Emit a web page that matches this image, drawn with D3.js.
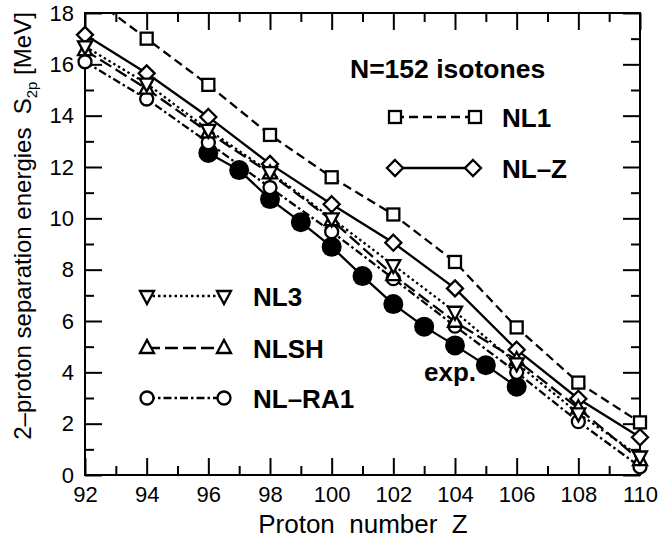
<!DOCTYPE html>
<html>
<head>
<meta charset="utf-8">
<script src="https://cdn.jsdelivr.net/npm/d3@7"></script>
<style>
  html, body { margin: 0; padding: 0; background: #fff; }
  svg { display: block; }
  text { font-family: "Liberation Sans", Arial, Helvetica, sans-serif; fill: #000; }
</style>
</head>
<body>
<svg id="chart" width="659" height="539"></svg>
<script>
// ---------------- data ----------------
const zTheory = [92, 94, 96, 98, 100, 102, 104, 106, 108, 110];
const nl1   = [18.8, 17.0, 15.2, 13.25, 11.6, 10.15, 8.3, 5.75, 3.6, 2.05];
const nlz   = [17.15, 15.65, 13.95, 12.12, 10.55, 9.05, 7.27, 4.88, 2.97, 1.47];
const nl3   = [16.7, 15.25, 13.45, 11.8, 10.0, 8.18, 6.36, 4.35, 2.4, 0.72];
const nlsh  = [16.55, 15.05, 13.35, 11.75, 9.93, 7.79, 5.97, 4.48, 2.6, 0.58];
const nlra1 = [16.1, 14.65, 12.95, 11.2, 9.48, 7.65, 5.8, 4.0, 2.08, 0.32];
const zExp  = [96, 97, 98, 99, 100, 101, 102, 103, 104, 105, 106];
const sExp  = [12.55, 11.88, 10.75, 9.85, 8.89, 7.75, 6.66, 5.78, 5.05, 4.28, 3.44];
const xMajorTicks = [92, 94, 96, 98, 100, 102, 104, 106, 108, 110];
const xMinorTicks = [93, 95, 97, 99, 101, 103, 105, 107, 109];
const yMajorTicks = [0, 2, 4, 6, 8, 10, 12, 14, 16, 18];
const yMinorTicks = [1, 3, 5, 7, 9, 11, 13, 15, 17];

const series = [
  { name: "NL1",    values: nl1,   marker: "square",  dash: "9,5" },
  { name: "NL\u2013Z",  values: nlz,   marker: "diamond", dash: null },
  { name: "NL\u2013RA1", values: nlra1, marker: "circle",  dash: "8,3,2.5,3" },
  { name: "NLSH",   values: nlsh,  marker: "up",      dash: "13,5" },
  { name: "NL3",    values: nl3,   marker: "down",    dash: "2.5,3" }
];

// ---------------- layout ----------------
const L = 85, R = 640, T = 13, B = 475;
const SW = 2.3;
const svg = d3.select("#chart");
const x = d3.scaleLinear().domain([92, 110]).range([L, R]);
const y = d3.scaleLinear().domain([0, 18]).range([B, T]);

svg.append("defs").append("clipPath").attr("id", "clipTop")
  .append("rect").attr("x", 0).attr("y", T).attr("width", 659).attr("height", 539 - T);

// ---------------- axes ----------------
function styleAxis(g) {
  g.select(".domain").remove();
  g.selectAll(".tick line").attr("stroke", "#000").attr("stroke-width", 2);
  g.selectAll(".tick text").style("font-size", "22px").attr("fill", "#000");
}
svg.append("g").attr("transform", `translate(0,${B})`)
  .call(d3.axisBottom(x).tickValues(xMajorTicks).tickSize(-17).tickPadding(11).tickFormat(d3.format("d")))
  .call(styleAxis);
svg.append("g").attr("transform", `translate(0,${B})`)
  .call(d3.axisBottom(x).tickValues(xMinorTicks).tickSize(-9).tickFormat(""))
  .call(styleAxis);
svg.append("g").attr("transform", `translate(0,${T})`)
  .call(d3.axisTop(x).tickValues(xMajorTicks).tickSize(-17).tickFormat(""))
  .call(styleAxis);
svg.append("g").attr("transform", `translate(0,${T})`)
  .call(d3.axisTop(x).tickValues(xMinorTicks).tickSize(-9).tickFormat(""))
  .call(styleAxis);
svg.append("g").attr("transform", `translate(${L},0)`)
  .call(d3.axisLeft(y).tickValues(yMajorTicks).tickSize(-17).tickPadding(11).tickFormat(d3.format("d")))
  .call(styleAxis);
svg.append("g").attr("transform", `translate(${L},0)`)
  .call(d3.axisLeft(y).tickValues(yMinorTicks).tickSize(-9).tickFormat(""))
  .call(styleAxis);
svg.append("g").attr("transform", `translate(${R},0)`)
  .call(d3.axisRight(y).tickValues(yMajorTicks).tickSize(-17).tickFormat(""))
  .call(styleAxis);
svg.append("g").attr("transform", `translate(${R},0)`)
  .call(d3.axisRight(y).tickValues(yMinorTicks).tickSize(-9).tickFormat(""))
  .call(styleAxis);

svg.append("rect").attr("x", L).attr("y", T).attr("width", R - L).attr("height", B - T)
  .attr("fill", "none").attr("stroke", "#000").attr("stroke-width", 2);

// ---------------- axis titles ----------------
svg.append("text")
  .attr("x", 363).attr("y", 533)
  .attr("text-anchor", "middle")
  .style("font-size", "26px").style("white-space", "pre")
  .text("Proton  number  Z");

const yl = svg.append("text")
  .attr("transform", "translate(31,226) rotate(-90)")
  .attr("text-anchor", "middle")
  .style("font-size", "24px").style("white-space", "pre");
yl.append("tspan").text("2\u2013proton separation energies  S");
yl.append("tspan").attr("dy", 6).style("font-size", "15px").text("2p");
yl.append("tspan").attr("dy", -6).text(" [MeV]");

// ---------------- markers ----------------
function drawMarker(g, type, cx, cy) {
  const sw = SW;
  if (type === "square") {
    g.append("rect").attr("x", cx - 6).attr("y", cy - 6).attr("width", 12).attr("height", 12)
      .attr("fill", "#fff").attr("stroke", "#000").attr("stroke-width", sw);
  } else if (type === "diamond") {
    g.append("path").attr("d", `M${cx},${cy - 8}L${cx + 8},${cy}L${cx},${cy + 8}L${cx - 8},${cy}Z`)
      .attr("fill", "#fff").attr("stroke", "#000").attr("stroke-width", sw);
  } else if (type === "up") {
    g.append("path").attr("d", `M${cx},${cy - 8}L${cx + 7},${cy + 5}L${cx - 7},${cy + 5}Z`)
      .attr("fill", "#fff").attr("stroke", "#000").attr("stroke-width", sw);
  } else if (type === "down") {
    g.append("path").attr("d", `M${cx},${cy + 8}L${cx + 7},${cy - 5}L${cx - 7},${cy - 5}Z`)
      .attr("fill", "#fff").attr("stroke", "#000").attr("stroke-width", sw);
  } else if (type === "circle") {
    g.append("circle").attr("cx", cx).attr("cy", cy).attr("r", 6.5)
      .attr("fill", "#fff").attr("stroke", "#000").attr("stroke-width", sw);
  }
}

const line = d3.line().x(d => x(d[0])).y(d => y(d[1]));
const plot = svg.append("g").attr("clip-path", "url(#clipTop)");

function drawSeries(s) {
  const pts = zTheory.map((z, i) => [z, s.values[i]]);
  const g = plot.append("g");
  g.append("path").datum(pts).attr("d", line)
    .attr("fill", "none").attr("stroke", "#000").attr("stroke-width", SW)
    .attr("stroke-dasharray", s.dash);
  pts.forEach(p => drawMarker(g, s.marker, x(p[0]), y(p[1])));
}

drawSeries(series[0]);
drawSeries(series[1]);

// experiment
const expPts = zExp.map((z, i) => [z, sExp[i]]);
const ge = plot.append("g");
ge.append("path").datum(expPts).attr("d", line)
  .attr("fill", "none").attr("stroke", "#000").attr("stroke-width", SW);
ge.selectAll("circle").data(expPts).enter().append("circle")
  .attr("cx", d => x(d[0])).attr("cy", d => y(d[1])).attr("r", 10).attr("fill", "#000");

drawSeries(series[2]);
drawSeries(series[3]);
drawSeries(series[4]);

// ---------------- legend ----------------
svg.append("text").attr("x", 350).attr("y", 78)
  .style("font-size", "26.5px").style("font-weight", "bold").text("N=152 isotones");

const legendItems = [
  { s: series[0], x1: 395, x2: 475, yy: 117, tx: 502 },
  { s: series[1], x1: 395, x2: 473, yy: 168, tx: 502 },
  { s: series[4], x1: 147, x2: 224, yy: 296, tx: 253 },
  { s: series[3], x1: 147, x2: 224, yy: 348, tx: 253 },
  { s: series[2], x1: 147, x2: 224, yy: 398, tx: 253 }
];
legendItems.forEach(it => {
  const g = svg.append("g");
  g.append("line").attr("x1", it.x1).attr("x2", it.x2).attr("y1", it.yy).attr("y2", it.yy)
    .attr("stroke", "#000").attr("stroke-width", SW).attr("stroke-dasharray", it.s.dash);
  drawMarker(g, it.s.marker, it.x1, it.yy);
  drawMarker(g, it.s.marker, it.x2, it.yy);
  g.append("text").attr("x", it.tx).attr("y", it.yy + 10)
    .style("font-size", "26px").style("font-weight", "bold").text(it.s.name);
});

svg.append("text").attr("x", 424).attr("y", 381)
  .style("font-size", "26px").style("font-weight", "bold").text("exp.");
</script>
</body>
</html>
